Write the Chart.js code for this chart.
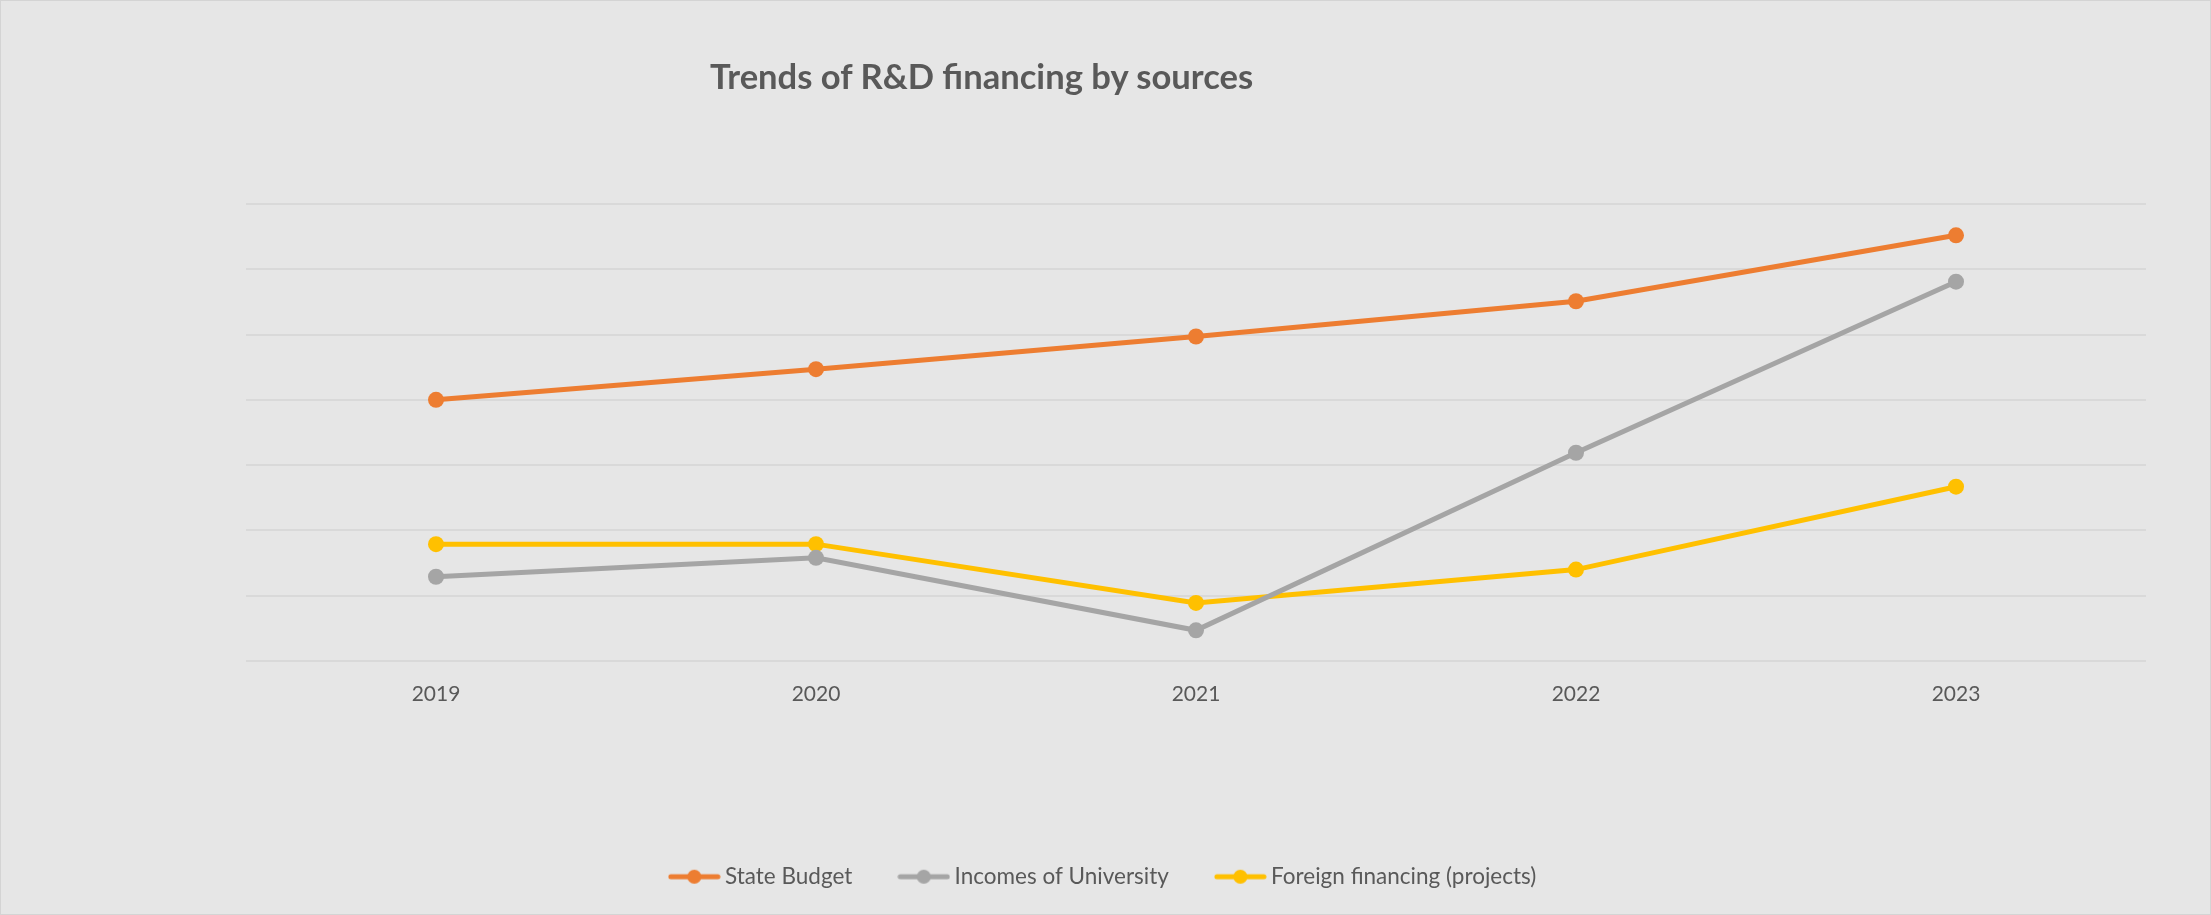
<!DOCTYPE html>
<html>
<head>
<meta charset="utf-8">
<script src="https://cdn.jsdelivr.net/npm/chart.js@4"></script>
<style>
  html, body { margin: 0; padding: 0; background: #e6e6e6; }
  #wrap { position: relative; width: 2211px; height: 915px; background: #e6e6e6; }
  #frame { position: absolute; left: 0; top: 0; width: 2209px; height: 913px; border: 1px solid #d4d4d4; pointer-events: none; }
  #title {
    position: absolute; left: 710px; top: 55px; margin: 0;
    font-family: Lato, sans-serif; font-weight: 700; font-size: 34.6px; line-height: 1.2;
    color: #595959; white-space: nowrap;
  }
</style>
</head>
<body>
<div id="wrap">
  <canvas id="myChart1"></canvas>
  <div id="title">Trends of R&amp;D financing by sources</div>
  <div id="frame"></div>
</div>
<script>
const years = ["2019", "2020", "2021", "2022", "2023"];
const stateBudget = [4.0, 4.47, 4.97, 5.51, 6.52];
const incomesUniversity = [1.29, 1.58, 0.47, 3.19, 5.81];
const foreignFinancing = [1.79, 1.79, 0.89, 1.4, 2.67];

const textColor = "#595959";

// small line + dot for the legend, like the office style
function legendMark(color) {
  const c = document.createElement("canvas");
  c.width = 53;
  c.height = 18;
  const g = c.getContext("2d");
  g.strokeStyle = color;
  g.lineWidth = 5;
  g.lineCap = "round";
  g.beginPath();
  g.moveTo(3, 9);
  g.lineTo(50, 9);
  g.stroke();
  g.fillStyle = color;
  g.beginPath();
  g.arc(26.5, 9, 7, 0, Math.PI * 2);
  g.fill();
  return c;
}

function series(label, values, color) {
  return {
    label: label,
    data: values,
    borderColor: color,
    backgroundColor: color,
    borderWidth: 5,
    pointRadius: 8,
    pointHoverRadius: 8,
    pointBorderWidth: 0,
    pointStyle: "circle",
    tension: 0,
    legendMark: legendMark(color),
  };
}

const data = {
  labels: years,
  datasets: [
    series("State Budget", stateBudget, "#ED7D31"),
    series("Incomes of University", incomesUniversity, "#A5A5A5"),
    series("Foreign financing (projects)", foreignFinancing, "#FFC000"),
  ],
};

const config = {
  type: "line",
  data: data,
  options: {
    responsive: true,
    maintainAspectRatio: false,
    animation: false,
    layout: { padding: { left: 65, right: 65, top: 204, bottom: 17 } },
    plugins: {
      title: { display: false },
      tooltip: { enabled: false },
      legend: {
        position: "bottom",
        labels: {
          color: textColor,
          font: { family: "Lato", size: 22.5 },
          usePointStyle: true,
          pointStyleWidth: 39,
          padding: 52,
          generateLabels: (chart) =>
            chart.data.datasets.map((ds, i) => ({
              text: ds.label,
              fillStyle: ds.borderColor,
              strokeStyle: ds.borderColor,
              lineWidth: 0,
              pointStyle: ds.legendMark,
              fontColor: textColor,
              hidden: false,
              datasetIndex: i,
            })),
        },
      },
    },
    scales: {
      x: {
        offset: true,
        grid: { display: false, drawTicks: false },
        border: { display: false },
        ticks: {
          color: textColor,
          font: { family: "Lato", size: 21 },
          padding: 21,
        },
        afterFit: (scale) => { scale.height = 152.5; },
      },
      y: {
        min: 0,
        max: 7,
        ticks: { display: false, stepSize: 1 },
        grid: { color: "#d9d9d9", lineWidth: 2, drawTicks: false },
        border: { display: false },
        afterFit: (scale) => { scale.width = 181; },
      },
    },
  },
};

const ctx = document.getElementById("myChart1").getContext("2d");
const myChart1 = new Chart(ctx, config);
</script>
</body>
</html>
